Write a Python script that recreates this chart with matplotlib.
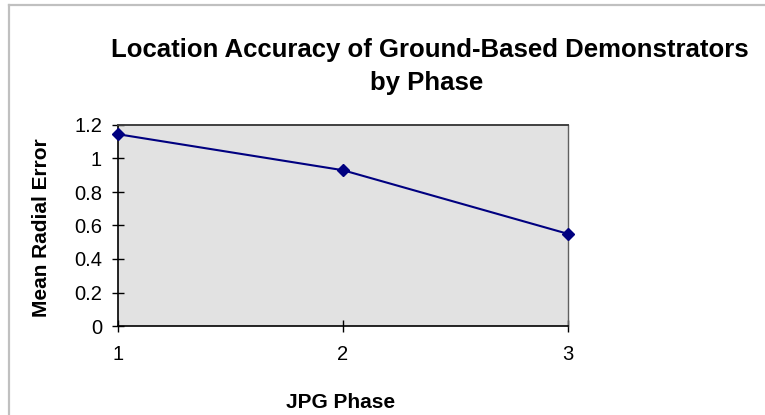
import matplotlib
matplotlib.use("Agg")
import matplotlib.pyplot as plt
from matplotlib.lines import Line2D

phases = [1, 2, 3]
mean_radial_error = [1.145, 0.93, 0.55]
y_ticks = [0, 0.2, 0.4, 0.6, 0.8, 1, 1.2]
y_tick_labels = ["0", "0.2", "0.4", "0.6", "0.8", "1", "1.2"]

plt.rcParams['font.family'] = ['Liberation Sans', 'DejaVu Sans']

W, H = 765, 415
fig = plt.figure(figsize=(W / 100, H / 100), dpi=100)
fig.patch.set_facecolor('white')

def fx(px):
    return px / W

def fy(py):
    return 1 - py / H

# outer chart border (left and top edges visible)
fig.lines.append(Line2D([fx(9), fx(9)], [0, fy(5)], transform=fig.transFigure,
                        color='#c0c0c0', linewidth=1.6))
fig.lines.append(Line2D([fx(9), 1], [fy(5), fy(5)], transform=fig.transFigure,
                        color='#c0c0c0', linewidth=1.6))

left, right, top, bottom = 118, 568, 125, 326
ax = fig.add_axes([fx(left), fy(bottom), (right - left) / W, (bottom - top) / H])
ax.set_facecolor('#e2e2e2')
ax.plot(phases, mean_radial_error, color='#000080', linewidth=1.5,
        marker='D', markersize=6.5, markerfacecolor='#000080', markeredgecolor='#000080',
        clip_on=False, zorder=5)
ax.set_xlim(1, 3)
ax.set_ylim(0, 1.2)
ax.set_xticks(phases)
ax.set_xticklabels([str(p) for p in phases])
ax.set_yticks(y_ticks)
ax.set_yticklabels(y_tick_labels)
for s in ['left', 'bottom']:
    ax.spines[s].set_color('#000000')
    ax.spines[s].set_linewidth(1.2)
ax.spines['top'].set_color('#404040')
ax.spines['top'].set_linewidth(1.4)
ax.spines['right'].set_color('#606060')
ax.spines['right'].set_linewidth(1.0)
ax.tick_params(axis='y', direction='inout', length=8.6, width=1, labelsize=14.5, pad=7.2)
ax.tick_params(axis='x', direction='inout', length=8.6, width=1, labelsize=14.5, pad=9.4)

fig.text(fx(430), fy(50.5), "Location Accuracy of Ground-Based Demonstrators",
         ha='center', va='center', fontsize=18.5, fontweight='bold')
fig.text(fx(427), fy(83), "by Phase",
         ha='center', va='center', fontsize=18.5, fontweight='bold')
fig.text(fx(341), fy(402.5), "JPG Phase", ha='center', va='center',
         fontsize=15, fontweight='bold')
fig.text(fx(41.5), fy(227.5), "Mean Radial Error", ha='center', va='center',
         rotation=90, fontsize=15, fontweight='bold')

fig.savefig("out.png", dpi=100)
